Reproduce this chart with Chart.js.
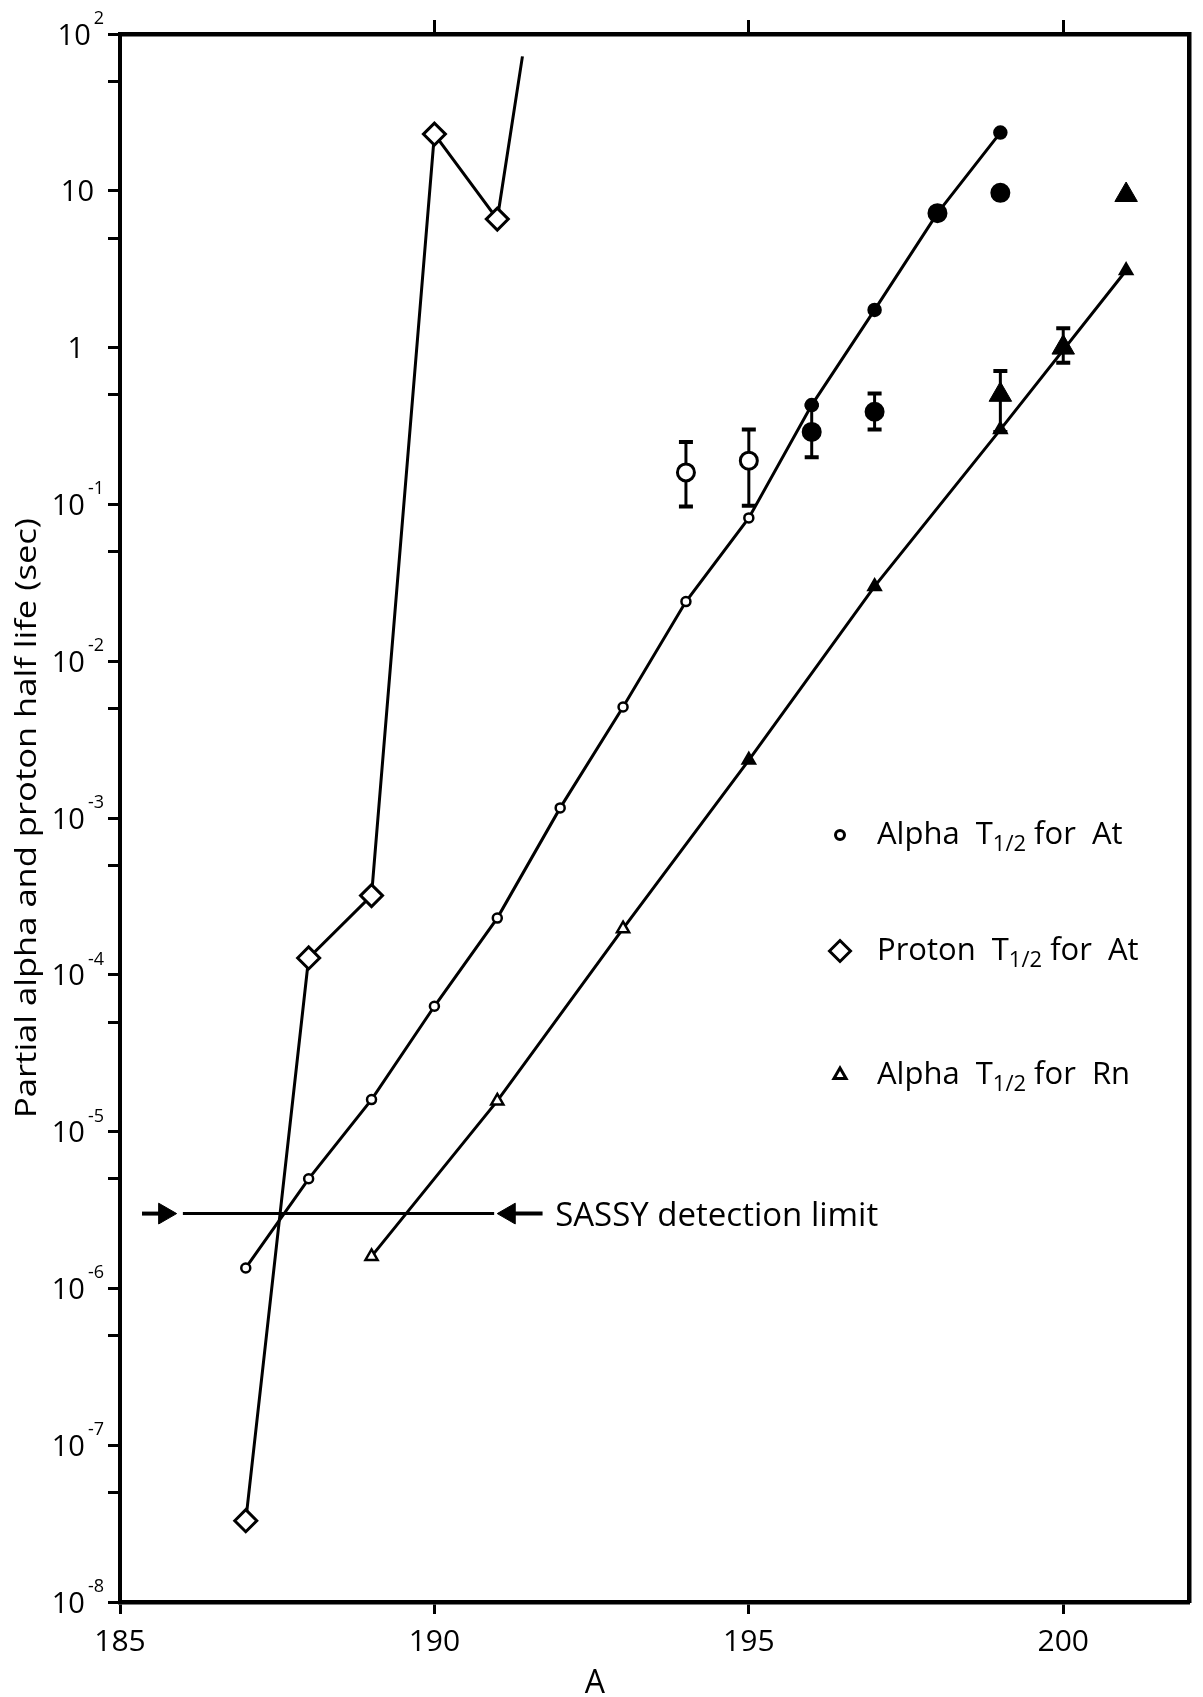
<!DOCTYPE html>
<html>
<head>
<meta charset="utf-8">
<script src="https://cdn.jsdelivr.net/npm/chart.js@4.4.1/dist/chart.umd.min.js"></script>
<style>
  html, body { margin: 0; padding: 0; background: #fff; }
  #wrap { width: 1203px; height: 1697px; position: relative; }
</style>
</head>
<body>
<div id="wrap"><canvas id="chart"></canvas></div>
<script>
// half lives in seconds vs mass number A

// calculated alpha T1/2 for At (small circles, line)
const atCalcA = [187, 188, 189, 190, 191, 192, 193, 194, 195, 196, 197, 198, 199];
const atCalcT = [1.35e-6, 5.0e-6, 1.6e-5, 6.3e-5, 2.3e-4, 1.16e-3, 5.1e-3, 2.4e-2, 8.2e-2, 0.43, 1.74, 7.2, 23.5];

// measured At points (big circles, some with error bars)
const atExpA = [194, 195, 196, 197, 198, 199];
const atExpT = [0.16, 0.19, 0.29, 0.39, 7.2, 9.7];
const atExpLo = [0.097, 0.098, 0.20, 0.30, null, null];
const atExpHi = [0.25, 0.30, 0.43, 0.51, null, null];

// proton T1/2 for At (diamonds), last entry is where the line stops
const protA = [187, 188, 189, 190, 191, 191.4];
const protT = [3.3e-8, 1.28e-4, 3.2e-4, 23, 6.6, 72];

// calculated alpha T1/2 for Rn (small triangles, line)
const rnCalcA = [189, 191, 193, 195, 197, 199, 201];
const rnCalcT = [1.6e-6, 1.57e-5, 1.97e-4, 2.34e-3, 0.030, 0.30, 3.1];

// measured Rn points (big triangles)
const rnExpA = [199, 200, 201];
const rnExpT = [0.50, 1.0, 9.4];
const rnExpLo = [0.29, 0.80, null];
const rnExpHi = [0.71, 1.33, null];

// SASSY detection limit line and its two arrows (A values)
const sassyLimit = 3.0e-6;
const sassyLine = [186.0, 190.95];
const sassyArrowL = [185.35, 185.71];
const sassyArrowR = [191.72, 191.19];

const xTicks = [185, 190, 195, 200];
const xTopTicks = [190, 195, 200];
const yDecades = [-8, -7, -6, -5, -4, -3, -2, -1, 0, 1, 2];

// open markers up to these A, filled above
const atOpenUpTo = 195;
const rnOpenUpTo = 193;

const FONT = '"Open Sans", "DejaVu Sans", sans-serif';
Chart.defaults.font.family = FONT;
Chart.defaults.color = '#000';

const pts = (xs, ys) => xs.map((x, i) => ({ x: x, y: ys[i] }));

// error bars go under the markers
const errorBars = {
  id: 'errorBars',
  beforeDatasetsDraw(chart) {
    const ctx = chart.ctx, xs = chart.scales.x, ys = chart.scales.y;
    const sets = [[atExpA, atExpLo, atExpHi], [rnExpA, rnExpLo, rnExpHi]];
    ctx.save();
    ctx.strokeStyle = '#000';
    sets.forEach(([as, lo, hi]) => {
      as.forEach((a, i) => {
        if (lo[i] == null) return;
        const px = xs.getPixelForValue(a);
        const y1 = ys.getPixelForValue(lo[i]);
        const y2 = ys.getPixelForValue(hi[i]);
        ctx.lineWidth = 3;
        ctx.beginPath();
        ctx.moveTo(px, y1); ctx.lineTo(px, y2);
        ctx.stroke();
        ctx.lineWidth = 4;
        ctx.beginPath();
        ctx.moveTo(px - 7, y1); ctx.lineTo(px + 7, y1);
        ctx.moveTo(px - 7, y2); ctx.lineTo(px + 7, y2);
        ctx.stroke();
      });
    });
    ctx.restore();
  }
};

// text with a T_{1/2} style subscript
function drawParts(ctx, x, y, parts) {
  parts.forEach(([t, sub]) => {
    ctx.font = sub ? '22px ' + FONT : '31px ' + FONT;
    ctx.fillText(t, x, sub ? y + 7 : y);
    x += ctx.measureText(t).width;
  });
}

const labelsPlugin = {
  id: 'labels',
  afterDraw(chart) {
    const ctx = chart.ctx, area = chart.chartArea;
    const xs = chart.scales.x, ys = chart.scales.y;
    ctx.save();
    ctx.fillStyle = '#000';
    ctx.strokeStyle = '#000';
    ctx.textBaseline = 'alphabetic';

    // y tick labels: 10, 1 and 10^n with raised exponent
    yDecades.forEach(e => {
      const py = ys.getPixelForValue(Math.pow(10, e));
      ctx.textAlign = 'right';
      if (e === 0 || e === 1) {
        ctx.font = '29px ' + FONT;
        ctx.fillText(e === 0 ? '1' : '10', area.left - (e === 0 ? 36 : 26), py + 10.5);
      } else {
        const exp = String(e);
        ctx.font = '18px ' + FONT;
        ctx.fillText(exp, area.left - 16, py - 10);
        const w = ctx.measureText(exp).width;
        ctx.font = '29px ' + FONT;
        ctx.fillText('10', area.left - 19 - w, py + 10.5);
      }
    });

    // y axis title, centred on the axis, stretched to the original length
    const title = 'Partial alpha and proton half life (sec)';
    ctx.save();
    ctx.font = '29px ' + FONT;
    const tw = ctx.measureText(title).width;
    ctx.translate(area.left - 92, (area.top + area.bottom) / 2);
    ctx.rotate(-Math.PI / 2);
    ctx.scale(600 / tw, 1);
    ctx.textAlign = 'center';
    ctx.textBaseline = 'middle';
    ctx.fillText(title, 0, 0);
    ctx.restore();

    // x axis title
    ctx.textAlign = 'center';
    ctx.font = '32px ' + FONT;
    ctx.fillText('A', xs.getPixelForValue(192.55), area.bottom + 91);

    // SASSY label
    ctx.textAlign = 'left';
    ctx.font = '33px ' + FONT;
    ctx.fillText('SASSY detection limit', xs.getPixelForValue(191.92), ys.getPixelForValue(sassyLimit) + 12);

    // legend
    const mx = area.left + 720, tx = area.left + 757;
    const rows = [
      { y: area.top + 801, sty: 'circle', r: 4.5, parts: [['Alpha  T', false], ['1/2', true], [' for  At', false]] },
      { y: area.top + 917, sty: 'rectRot', r: 10.5, parts: [['Proton  T', false], ['1/2', true], [' for  At', false]] },
      { y: area.top + 1041, sty: 'triangle', r: 7, parts: [['Alpha  T', false], ['1/2', true], [' for  Rn', false]] }
    ];
    rows.forEach(row => {
      ctx.fillStyle = '#fff';
      ctx.lineWidth = 3;
      Chart.helpers.drawPoint(ctx, { pointStyle: row.sty, radius: row.r, rotation: 0, borderWidth: 3 }, mx, row.y);
      ctx.fillStyle = '#000';
      drawParts(ctx, tx, row.y + 9, row.parts);
    });
    ctx.restore();
  }
};

const openOrFilled = (limit) => (c) => (c.raw && c.raw.x <= limit ? '#fff' : '#000');

new Chart(document.getElementById('chart'), {
  type: 'scatter',
  data: {
    datasets: [
      {
        label: 'At measured',
        data: pts(atExpA, atExpT),
        pointStyle: 'circle',
        pointRadius: 8.5,
        pointBorderWidth: 3,
        pointBorderColor: '#000',
        pointBackgroundColor: openOrFilled(atOpenUpTo)
      },
      {
        label: 'Rn measured',
        data: pts(rnExpA, rnExpT),
        pointStyle: 'triangle',
        pointRadius: 13,
        pointBorderWidth: 1,
        pointBorderColor: '#000',
        pointBackgroundColor: '#000'
      },
      {
        label: 'Alpha T1/2 for At',
        data: pts(atCalcA, atCalcT),
        showLine: true,
        borderColor: '#000',
        borderWidth: 3,
        pointStyle: 'circle',
        pointRadius: c => (c.raw && c.raw.x <= atOpenUpTo ? 4.5 : 6),
        pointBorderWidth: 2.5,
        pointBorderColor: '#000',
        pointBackgroundColor: openOrFilled(atOpenUpTo)
      },
      {
        label: 'Proton T1/2 for At',
        data: pts(protA, protT),
        showLine: true,
        borderColor: '#000',
        borderWidth: 3,
        pointStyle: 'rectRot',
        pointRadius: c => (c.dataIndex === protA.length - 1 ? 0 : 11),
        pointBorderWidth: 3,
        pointBorderColor: '#000',
        pointBackgroundColor: '#fff'
      },
      {
        label: 'Alpha T1/2 for Rn',
        data: pts(rnCalcA, rnCalcT),
        showLine: true,
        borderColor: '#000',
        borderWidth: 3,
        pointStyle: 'triangle',
        pointRadius: 7,
        pointBorderWidth: 2.5,
        pointBorderColor: '#000',
        pointBackgroundColor: openOrFilled(rnOpenUpTo)
      },
      {
        label: 'SASSY detection limit',
        data: sassyLine.map(a => ({ x: a, y: sassyLimit })),
        showLine: true,
        borderColor: '#000',
        borderWidth: 3,
        pointRadius: 0
      },
      {
        label: 'arrow left',
        data: sassyArrowL.map(a => ({ x: a, y: sassyLimit })),
        showLine: true,
        borderColor: '#000',
        borderWidth: 4,
        pointStyle: 'triangle',
        pointRotation: 90,
        pointRadius: c => (c.dataIndex === 1 ? 12 : 0),
        pointBorderWidth: 1,
        pointBorderColor: '#000',
        pointBackgroundColor: '#000'
      },
      {
        label: 'arrow right',
        data: sassyArrowR.map(a => ({ x: a, y: sassyLimit })),
        showLine: true,
        borderColor: '#000',
        borderWidth: 4,
        pointStyle: 'triangle',
        pointRotation: -90,
        pointRadius: c => (c.dataIndex === 1 ? 12 : 0),
        pointBorderWidth: 1,
        pointBorderColor: '#000',
        pointBackgroundColor: '#000'
      }
    ]
  },
  options: {
    responsive: true,
    maintainAspectRatio: false,
    animation: false,
    layout: { padding: 0 },
    plugins: {
      legend: { display: false },
      tooltip: { enabled: false }
    },
    scales: {
      x: {
        type: 'linear',
        position: 'bottom',
        min: 185,
        max: 202,
        afterBuildTicks: s => { s.ticks = xTicks.map(v => ({ value: v })); },
        afterFit: s => { s.height = 95; },
        grid: { drawOnChartArea: false, tickLength: 12, tickWidth: 3, tickColor: '#000' },
        border: { color: '#000', width: 4.5 },
        ticks: { autoSkip: false, maxRotation: 0, padding: 10, color: '#000', font: { size: 30 } }
      },
      x2: {
        type: 'linear',
        position: 'top',
        min: 185,
        max: 202,
        afterBuildTicks: s => { s.ticks = xTopTicks.map(v => ({ value: v })); },
        afterFit: s => { s.height = 34; },
        grid: { drawOnChartArea: false, tickLength: 14, tickWidth: 3, tickColor: '#000' },
        border: { color: '#000', width: 4.5 },
        ticks: { display: false }
      },
      y: {
        type: 'logarithmic',
        position: 'left',
        min: 1e-8,
        max: 100,
        afterBuildTicks: s => {
          const vals = [];
          yDecades.forEach(e => {
            vals.push(Math.pow(10, e));
            if (e < 2) vals.push(5 * Math.pow(10, e));
          });
          s.ticks = vals.map(v => ({ value: v }));
        },
        afterFit: s => { s.width = 120; },
        grid: { drawOnChartArea: false, tickLength: 12, tickWidth: 3, tickColor: '#000' },
        border: { color: '#000', width: 4 },
        ticks: { autoSkip: false, callback: () => '' }
      },
      y2: {
        type: 'linear',
        position: 'right',
        afterFit: s => { s.width = 4; },
        grid: { drawOnChartArea: false, drawTicks: false },
        border: { color: '#000', width: 4.5 },
        ticks: { display: false }
      }
    }
  },
  plugins: [errorBars, labelsPlugin]
});
</script>
</body>
</html>
